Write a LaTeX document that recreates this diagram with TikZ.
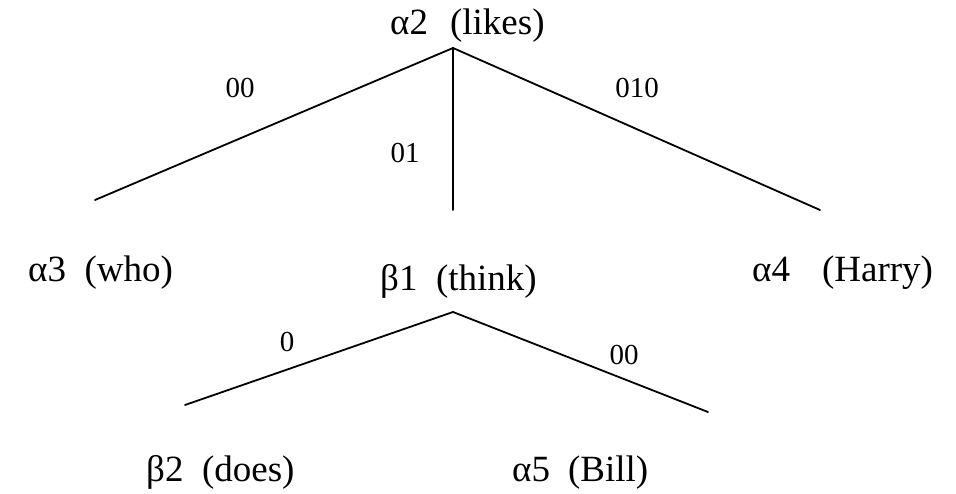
\documentclass[tikz,border=0pt]{standalone}
\usepackage{fontspec}
\setmainfont{Liberation Serif}
\begin{document}
\begin{tikzpicture}[x=1pt,y=-1pt,
  treenode/.style={anchor=base west,inner sep=0pt,font=\fontsize{37}{43}\selectfont},
  addr/.style={anchor=base,inner sep=0pt,font=\fontsize{29}{34}\selectfont},
  edge/.style={line width=1.8pt,line cap=round}]
\useasboundingbox (0,0) rectangle (956,494);
% tree labels
\node[treenode] (a2) at (390,35) {α2\hspace{22pt}(likes)};
\node[treenode] (a3) at (28,282) {α3\ \ (who)};
\node[treenode] (b1) at (380,291) {β1\ \ (think)};
\node[treenode] (a4) at (752,282) {α4\hspace{32pt}(Harry)};
\node[treenode] (b2) at (146,481) {β2\ \ (does)};
\node[treenode] (a5) at (512,481) {α5\hspace{18pt}(Bill)};
% branch points and branch ends
\coordinate (top) at (453,48);
\coordinate (e3) at (95,200);
\coordinate (e1) at (453,210);
\coordinate (e4) at (820,210);
\coordinate (mid) at (453,312);
\coordinate (e2) at (185,405);
\coordinate (e5) at (708,412);
% branches
\draw[edge] (top) -- (e3);
\draw[edge] (top) -- (e1);
\draw[edge] (top) -- (e4);
\draw[edge] (mid) -- (e2);
\draw[edge] (mid) -- (e5);
% Gorn addresses
\node[addr] (l00) at (240,98) {00};
\node[addr] (l01) at (405,163) {01};
\node[addr] (l010) at (637,98) {010};
\node[addr] (l0) at (287,352) {0};
\node[addr] (l00b) at (624,364) {00};
\end{tikzpicture}
\end{document}
